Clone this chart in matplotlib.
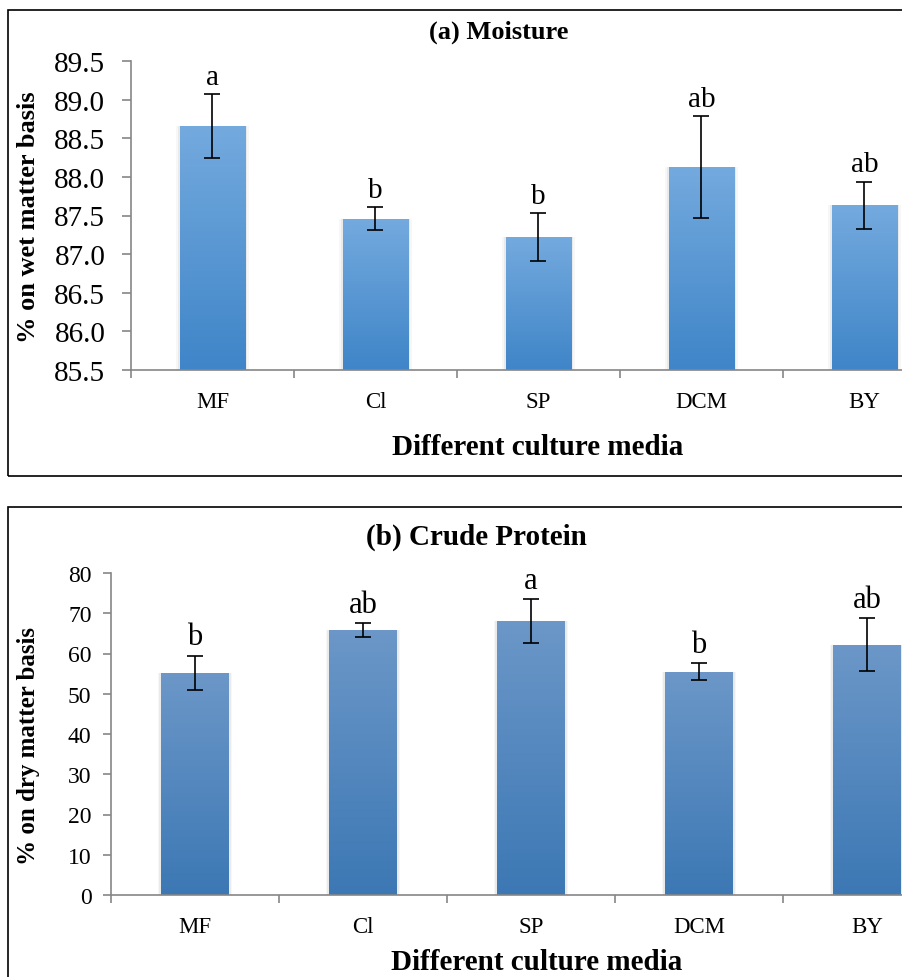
import numpy as np
import matplotlib
matplotlib.use('Agg')
import matplotlib.pyplot as plt
from matplotlib.colors import LinearSegmentedColormap
from matplotlib.patches import Rectangle

plt.rcParams['font.family'] = ['Liberation Serif', 'DejaVu Serif']

media = ['MF', 'Cl', 'SP', 'DCM', 'BY']

moisture = [88.66, 87.46, 87.22, 88.13, 87.63]
moisture_err = [0.41, 0.15, 0.31, 0.66, 0.31]
moisture_grp = ['a', 'b', 'b', 'ab', 'ab']

protein = [55.2, 65.9, 68.1, 55.5, 62.2]
protein_err = [4.3, 1.7, 5.4, 2.1, 6.6]
protein_grp = ['b', 'ab', 'a', 'b', 'ab']

W, H = 903, 978
fig = plt.figure(figsize=(W / 100, H / 100), dpi=100)


def px(x0, y0, x1, y1):
    # pixel box (top-left origin) -> figure fraction rect
    return [x0 / W, 1 - y1 / H, (x1 - x0) / W, (y1 - y0) / H]


def gradient_bars(ax, x, vals, base, top_col, bot_col):
    cmap = LinearSegmentedColormap.from_list('g', [bot_col, top_col])
    bars = ax.bar(x, np.array(vals) - base, 0.4, bottom=base, color='none',
                  edgecolor='none', zorder=2)
    grad = np.linspace(0, 1, 256).reshape(-1, 1)
    for b in bars:
        bx, by = b.get_x(), b.get_y()
        bw, bh = b.get_width(), b.get_height()
        # soft shadow
        for k, a in [(0.012, 0.10), (0.022, 0.06)]:
            ax.add_patch(Rectangle((bx - k, by), bw + 2 * k, bh,
                                   facecolor='#7f7f7f', alpha=a, edgecolor='none',
                                   zorder=1.5))
        im = ax.imshow(grad, cmap=cmap, aspect='auto', origin='lower',
                       extent=(bx, bx + bw, by, by + bh), zorder=2.1)
        im.set_clip_path(b)
    return bars


def style_axes(ax, ylim, yticks, ylab_fmt, ysize, ypad, ticklen):
    n = len(media)
    ax.set_xlim(0, n)
    ax.set_ylim(*ylim)
    ax.set_yticks(yticks)
    ax.set_yticklabels([ylab_fmt.format(v) for v in yticks], fontsize=ysize)
    ax.set_xticks(np.arange(n) + 0.5)
    ax.set_xticklabels(media, fontsize=16.5)
    ax.set_xticks(np.arange(n + 1), minor=True)
    ax.tick_params(axis='x', which='major', length=0, pad=15)
    ax.tick_params(axis='x', which='minor', length=6, color='#868686', width=1.2)
    ax.tick_params(axis='y', length=ticklen, color='#868686', width=1.2, pad=ypad)
    for s in ['top', 'right']:
        ax.spines[s].set_visible(False)
    for s in ['left', 'bottom']:
        ax.spines[s].set_color('#868686')
        ax.spines[s].set_linewidth(1.2)


# frames around each panel
fig.patches.append(Rectangle((8 / W, 1 - 477 / H), 1.2, (477 - 11) / H,
                             transform=fig.transFigure, fill=False,
                             edgecolor='black', linewidth=1.2))
fig.patches.append(Rectangle((8 / W, -0.1), 1.2, 0.1 + (978 - 508) / H,
                             transform=fig.transFigure, fill=False,
                             edgecolor='black', linewidth=1.2))

# (a) Moisture
ax1 = fig.add_axes(px(131, 62, 946, 371))
x = np.arange(len(media)) + 0.5
gradient_bars(ax1, x, moisture, 85.5, '#74aade', '#3f85c8')
ax1.errorbar(x, moisture, yerr=moisture_err, fmt='none', ecolor='black',
             elinewidth=1.2, capsize=6, capthick=1.2, zorder=3)
for xi, v, e, g in zip(x, moisture, moisture_err, moisture_grp):
    ax1.annotate(g, (xi, v + e), xytext=(0, 3), textcoords='offset points',
                 ha='center', va='bottom', fontsize=21)
style_axes(ax1, (85.5, 89.5), np.arange(85.5, 89.51, 0.5), '{:.1f}', 21, 12, 6.5)
fig.text(499 / W, 1 - 32 / H, '(a) Moisture', ha='center', va='center',
         fontsize=19, fontweight='bold')
fig.text(538 / W, 1 - 448 / H, 'Different culture media', ha='center',
         va='center', fontsize=21, fontweight='bold')
fig.text(29 / W, 1 - 217 / H, '% on wet matter basis', ha='center',
         va='center', rotation=90, fontsize=19, fontweight='bold')

# (b) Crude Protein
ax2 = fig.add_axes(px(111, 574, 951, 896))
gradient_bars(ax2, x, protein, 0, '#6c97c8', '#3c78b4')
ax2.errorbar(x, protein, yerr=protein_err, fmt='none', ecolor='black',
             elinewidth=1.2, capsize=6, capthick=1.2, zorder=3)
for xi, v, e, g in zip(x, protein, protein_err, protein_grp):
    ax2.annotate(g, (xi, v + e), xytext=(0, 3), textcoords='offset points',
                 ha='center', va='bottom', fontsize=22)
style_axes(ax2, (0, 80), np.arange(0, 81, 10), '{:.0f}', 17, 8, 6)
fig.text(476 / W, 1 - 537 / H, '(b) Crude Protein', ha='center', va='center',
         fontsize=21, fontweight='bold')
fig.text(537 / W, 1 - 963 / H, 'Different culture media', ha='center',
         va='center', fontsize=21, fontweight='bold')
fig.text(29 / W, 1 - 746 / H, '% on dry matter basis', ha='center',
         va='center', rotation=90, fontsize=18, fontweight='bold')

fig.savefig('out.png', dpi=100)
